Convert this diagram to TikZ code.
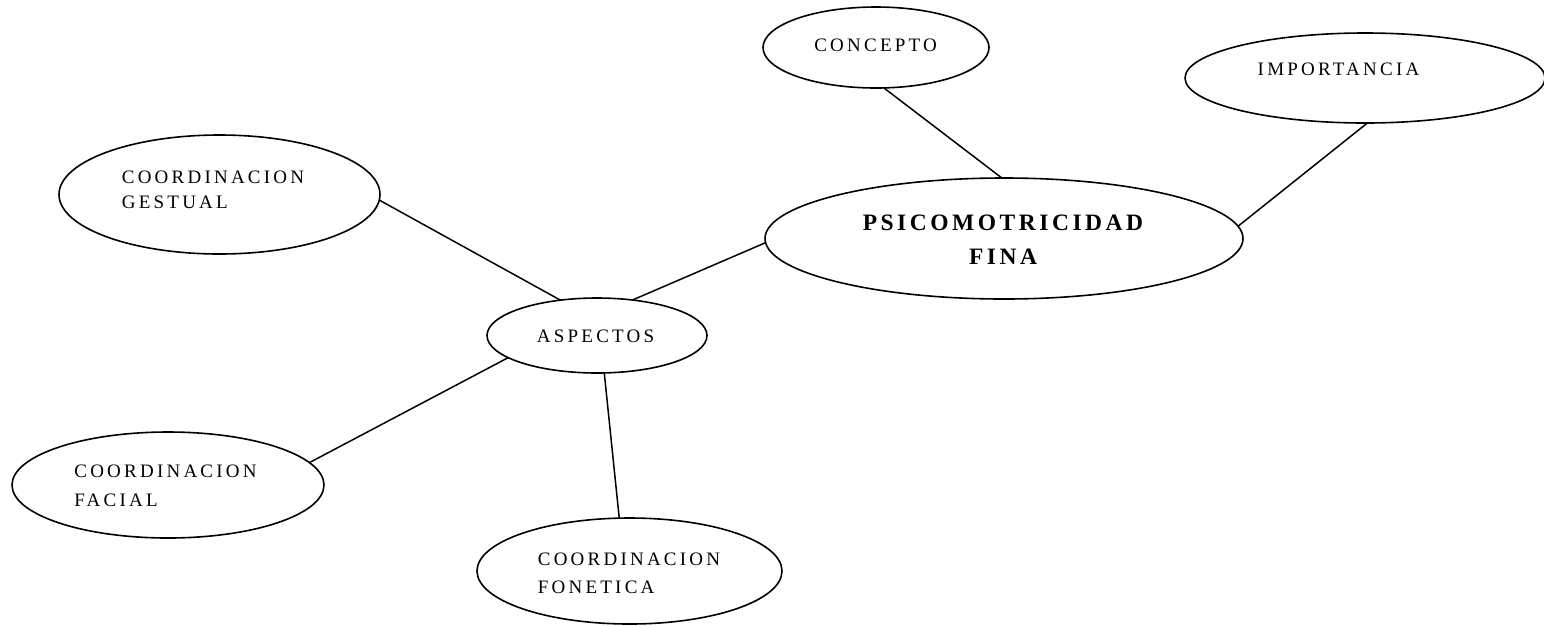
\documentclass[tikz,border=0pt]{standalone}
\usepackage{fontspec}
\setmainfont{Liberation Serif}
\newfontfamily\mapfont{Liberation Serif}[LetterSpace=17]
\newfontfamily\titlefont{Liberation Serif}[LetterSpace=15]
\usetikzlibrary{shapes.geometric}
\begin{document}
\begin{tikzpicture}[x=1pt,y=-1pt,
  bubble/.style={draw,ellipse,line width=1.6pt,inner sep=0pt,outer sep=0pt},
  word/.style={inner sep=0pt,align=left,font=\mapfont\fontsize{19}{27}\selectfont},
  link/.style={line width=1.5pt}]
\useasboundingbox (0,0) rectangle (1544,625);
\node[bubble,minimum width=226pt,minimum height=81pt] (concepto) at (876,47.5) {};
\node[bubble,minimum width=360pt,minimum height=90pt] (imp) at (1365,78) {};
\node[bubble,minimum width=478pt,minimum height=121pt] (psico) at (1004,238.5) {};
\node[bubble,minimum width=321pt,minimum height=119pt] (gestual) at (219.5,194.5) {};
\node[bubble,minimum width=220pt,minimum height=75pt] (aspectos) at (597,335.5) {};
\node[bubble,minimum width=312pt,minimum height=106pt] (facial) at (168,485) {};
\node[bubble,minimum width=305pt,minimum height=106pt] (fonetica) at (629.5,571) {};
\node[word] (conceptoTxt) at (875.6,45.5) {CONCEPTO};
\node[word] (impTxt) at (1338.5,69.5) {IMPORTANCIA};
\node[word,align=center,font=\titlefont\bfseries\fontsize{23.5}{33.5}\selectfont] (psicoTxt) at (1003,239.5) {PSICOMOTRICIDAD\\FINA};
\node[word] (gestualTxt) at (213,189.5) {COORDINACION\\[-2pt]GESTUAL};
\node[word] (aspectosTxt) at (595.6,336) {ASPECTOS};
\node[word] (facialTxt) at (165.5,486) {COORDINACION\\[2pt]FACIAL};
\node[word] (foneticaTxt) at (629,573) {COORDINACION\\[1pt]FONETICA};
\draw[link] (concepto.-79) -- (psico.92);
\draw[link] (imp.-87.5) -- (psico.3.7);
\draw[link] (psico.181) -- (aspectos.45.4);
\draw[link] (gestual.-2) -- (aspectos.136);
\draw[link] (aspectos.194) -- (facial.9.1);
\draw[link] (aspectos.-79.7) -- (fonetica.101);
\end{tikzpicture}
\end{document}
